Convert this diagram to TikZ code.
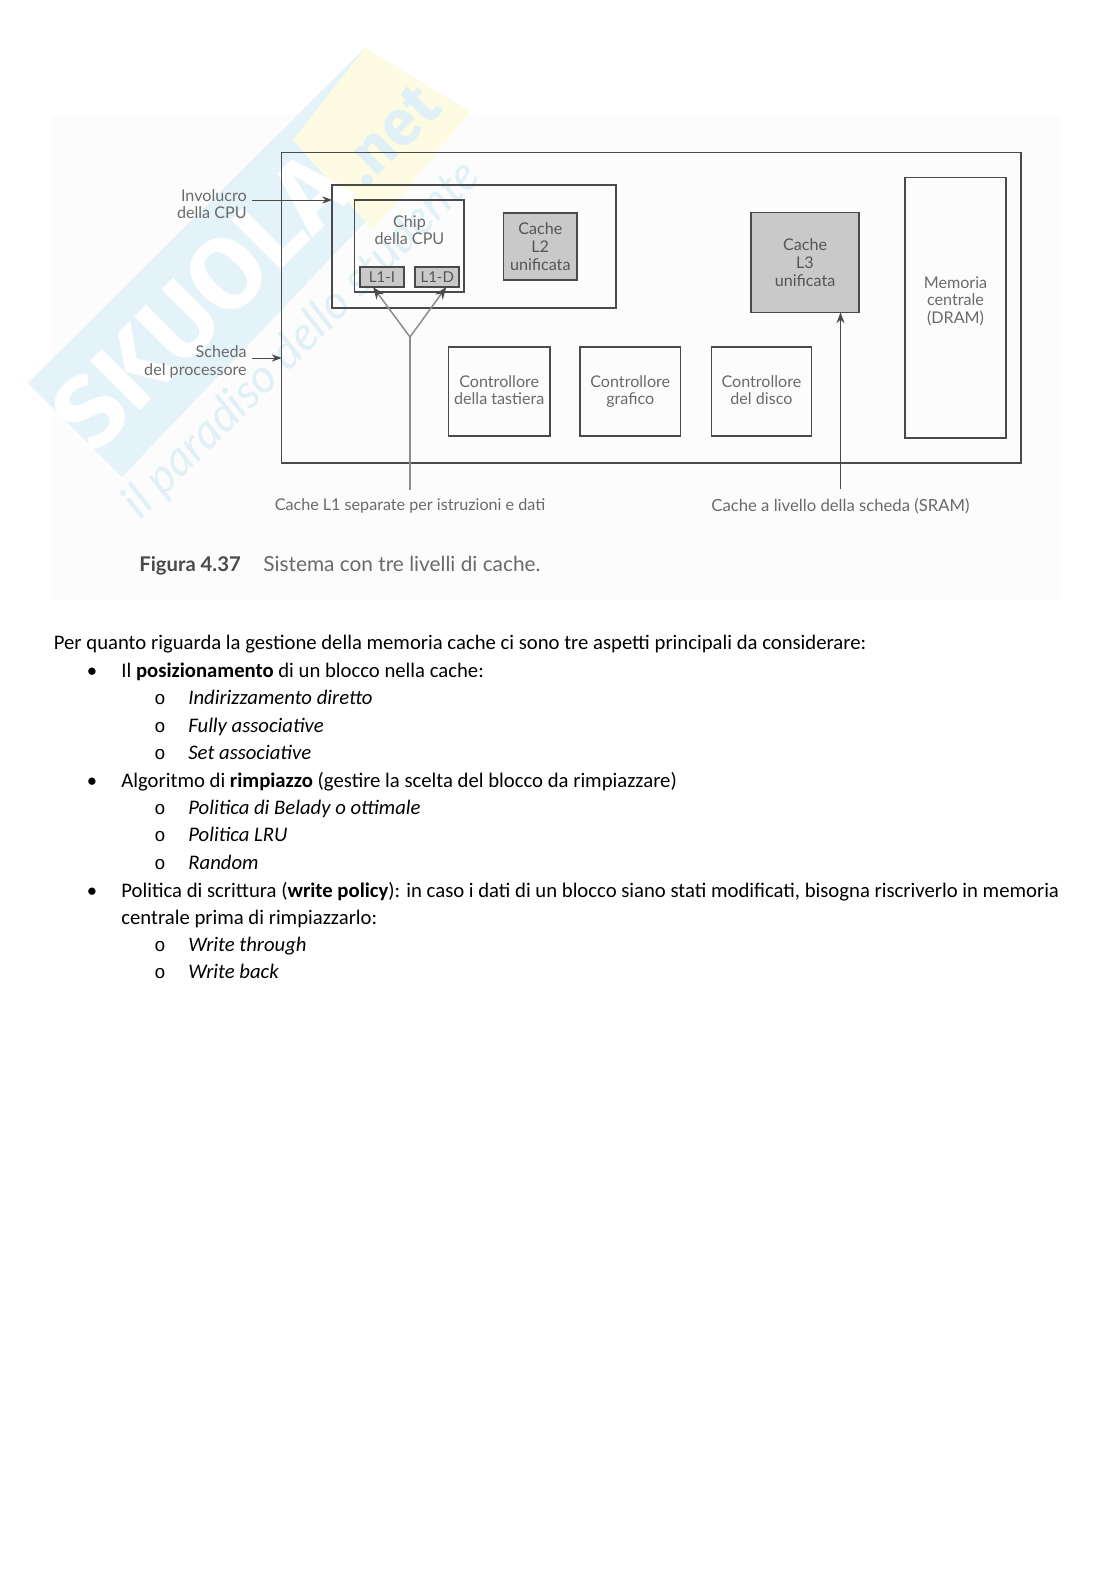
\documentclass[tikz,border=0pt]{standalone}
\usepackage{fontspec}
\usepackage{tikz}
\usetikzlibrary{arrows.meta, positioning}
\setmainfont{Carlito}
\newfontfamily\figfont{Lato}
\newfontfamily\markfont{Fira Sans}
\newfontfamily\ringfont{Liberation Mono}
\definecolor{scanbg}{HTML}{FCFCFC}
\definecolor{markblue}{HTML}{E4F3F9}
\definecolor{markyellow}{HTML}{FDFBE2}
\definecolor{markletter}{HTML}{E0F0F7}
\definecolor{frameline}{HTML}{4A4A4A}
\definecolor{figtext}{HTML}{6A6A6A}
\definecolor{cachetext}{HTML}{555555}
\definecolor{cachefill}{HTML}{C9C9C9}
\definecolor{forkline}{HTML}{8C8C8C}
\newcommand{\unitpx}{0.5332pt}
\tikzset{
    boxsize/.style 2 args={minimum width=#1*\unitpx, minimum height=#2*\unitpx},
    frame/.style={draw=frameline, line width=1pt, rectangle, inner sep=0pt, outer sep=0pt, anchor=north west, align=center, text=figtext, font=\figfont\fontsize{8.6}{9.4}\selectfont},
    cachebox/.style={frame, fill=cachefill, text=cachetext},
    figlabel/.style={inner sep=4.5pt, text=figtext, align=right, font=\figfont\fontsize{8.6}{9.4}\selectfont},
    bodyline/.style={anchor=base west, inner sep=0pt, font=\fontsize{11.04}{13}\selectfont},
    bulletmark/.style={anchor=base, inner sep=0pt, font=\fontsize{11}{13}\selectfont},
    ringmark/.style={anchor=base, inner sep=0pt, font=\ringfont\fontsize{10}{12}\selectfont},
}
\begin{document}
\begin{tikzpicture}[x=\unitpx, y=-\unitpx, >=Stealth]
    \useasboundingbox (0,0) rectangle (1116,1579);
    % Scan background and watermark
    \fill[scanbg] (52,115) rectangle (1060,600);
    \fill[markblue] (28,383) -- (365,48) -- (470,112) -- (122,477) -- cycle;
    \fill[markyellow] (365,48) -- (470,112) -- (373,230) -- (293,140) -- cycle;
    \node [rotate=45, text=white, inner sep=0pt, font=\markfont\bfseries\fontsize{54}{54}\selectfont] (skuola) at (200,301) {SKUOLA};
    \node [rotate=45, text=markletter, inner sep=0pt, font=\markfont\bfseries\fontsize{34}{34}\selectfont] (dotnet) at (390,135) {.net};
    \node [rotate=45, text=markletter, inner sep=0pt, font=\figfont\itshape\fontsize{25}{25}\selectfont] (motto) at (302,340) {il paradiso dello studente};

    % Boards
    \node [frame, boxsize={739.5}{310.5}] (board) at (281.5,152.5) {};
    \node [frame, boxsize={284}{123}] (cpu) at (332,185) {};
    \node [frame, boxsize={109.5}{92}] (chip) at (354.5,200) {};
    \node [figlabel, align=center] (chiplabel) at (409.5,230) {Chip\\della CPU};
    \node [cachebox, boxsize={44}{20}, font=\figfont\fontsize{8}{9}\selectfont] (l1i) at (360,267) {L1-I};
    \node [cachebox, boxsize={44}{20}, font=\figfont\fontsize{8}{9}\selectfont, right=6pt of l1i] (l1d) {L1-D};
    \node [cachebox, boxsize={73.5}{67}] (l2) at (503.5,213) {Cache\\L2\\unificata};
    \node [cachebox, boxsize={108}{100}] (l3) at (751,212.5) {Cache\\L3\\unificata};
    \node [frame, boxsize={101}{260.5}] (mem) at (905,177.5) {};
    \node [figlabel, align=center] (memlabel) at (955.5,301) {Memoria\\centrale\\(DRAM)};

    % Controllers
    \node [frame, boxsize={101.5}{89}] (kbd) at (448.5,347) {Controllore\\della tastiera\vphantom{g}};
    \node [frame, boxsize={100.5}{89}, right=16pt of kbd] (gfx) {Controllore\\grafico\vphantom{g}};
    \node [frame, boxsize={100}{89}, right=16.5pt of gfx] (disk) {Controllore\\del disco\vphantom{g}};

    % Labels
    \node [figlabel, anchor=east] (involucro) at (255.5,204) {Involucro\\della CPU};
    \node [figlabel, anchor=east] (scheda) at (255.5,362) {Scheda\\del processore};
    \node [figlabel] (l1text) at (410,506) {Cache L1 separate per istruzioni e dati\vphantom{(}};
    \node [figlabel, font=\figfont\fontsize{8.9}{9.4}\selectfont] (l3text) at (840.5,506) {Cache a livello della scheda (SRAM)};
    \node [anchor=base west, inner sep=0pt, text=frameline, font=\figfont\bfseries\fontsize{10.8}{12}\selectfont] (figno) at (139,571) {Figura 4.37};
    \node [anchor=base west, inner sep=0pt, text=figtext, font=\figfont\fontsize{11.1}{12}\selectfont] (figtitle) at (263,571) {Sistema con tre livelli di cache.};

    % Paths
    \coordinate (invofoot) at (252,200);
    \coordinate (schedafoot) at (252,358);
    \coordinate (l1fork) at (410,337);
    \draw[->, frameline, line width=0.5pt] (invofoot) -- (invofoot -| cpu.west);
    \draw[->, frameline, line width=0.5pt] (schedafoot) -- (schedafoot -| board.west);
    \draw[forkline, line width=0.7pt] (l1text.north) -- (l1fork);
    \draw[-{Stealth[color=frameline]}, forkline, line width=0.8pt] (l1fork) -- (l1i.228);
    \draw[-{Stealth[color=frameline]}, forkline, line width=0.8pt] (l1fork) -- (l1d.-48);
    \draw[->, frameline, line width=0.6pt] (l3text.north) -- (l3text.north |- l3.south);

    % Text below the figure
    \node [bodyline] (intro) at (53.5,649.5) {Per quanto riguarda la gestione della memoria cache ci sono tre aspetti principali da considerare:};
    \node [bulletmark] (bulleta) at (92,677) {•};
    \node [bodyline] (posiz) at (121,677) {Il \textbf{posizionamento} di un blocco nella cache:};
    \node [ringmark] (ringa) at (160,704.5) {o};
    \node [bodyline] (direct) at (188,704.5) {\textit{Indirizzamento diretto}};
    \node [ringmark] (ringb) at (160,732) {o};
    \node [bodyline] (fully) at (188,732) {\textit{Fully associative}};
    \node [ringmark] (ringc) at (160,759.5) {o};
    \node [bodyline] (setassoc) at (188,759.5) {\textit{Set associative}};
    \node [bulletmark] (bulletb) at (92,787) {•};
    \node [bodyline] (algo) at (121,787) {Algoritmo di \textbf{rimpiazzo} (gestire la scelta del blocco da rimpiazzare)};
    \node [ringmark] (ringd) at (160,814.5) {o};
    \node [bodyline] (belady) at (188,814.5) {\textit{Politica di Belady o ottimale}};
    \node [ringmark] (ringe) at (160,841.5) {o};
    \node [bodyline] (lru) at (188,841.5) {\textit{Politica LRU}};
    \node [ringmark] (ringf) at (160,869) {o};
    \node [bodyline] (random) at (188,869) {\textit{Random}};
    \node [bulletmark] (bulletc) at (92,897) {•};
    \node [bodyline] (writepol) at (121,897) {Politica di scrittura (\textbf{write policy}): in caso i dati di un blocco siano stati modificati, bisogna riscriverlo in memoria};
    \node [bodyline] (writecont) at (121,924) {centrale prima di rimpiazzarlo:};
    \node [ringmark] (ringg) at (160,951.5) {o};
    \node [bodyline] (through) at (188,951.5) {\textit{Write through}};
    \node [ringmark] (ringh) at (160,978.5) {o};
    \node [bodyline] (back) at (188,978.5) {\textit{Write back}};
\end{tikzpicture}
\end{document}
